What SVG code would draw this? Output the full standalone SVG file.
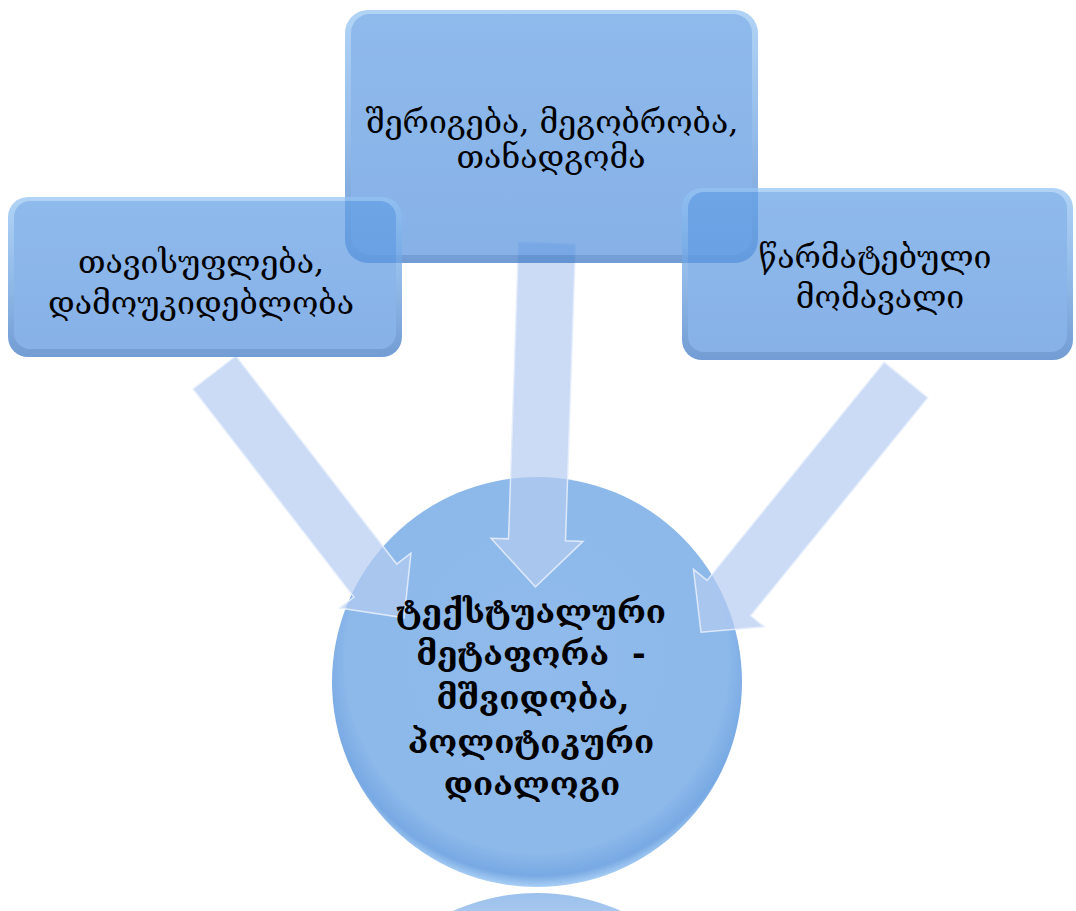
<svg xmlns="http://www.w3.org/2000/svg" width="1076" height="911" viewBox="0 0 1076 911">
<defs>
<style>
.lbl{font-family:"DejaVu Serif","DejaVu Sans","Noto Sans",serif;fill:#000;text-anchor:middle}
.box{font-size:32px}
.ctr{font-size:33px;font-weight:bold}
.arrow{fill:#b5ccf1;fill-opacity:0.7;stroke:#e4edfb;stroke-width:1.5;stroke-opacity:0.9}
</style>
<linearGradient id="bevel" x1="0" y1="0" x2="0" y2="1">
<stop offset="0" stop-color="#94c4f3"/>
<stop offset="0.5" stop-color="#6aa2e2"/>
<stop offset="1" stop-color="#3d78c4"/>
</linearGradient>
<linearGradient id="face" x1="0" y1="0" x2="0" y2="1">
<stop offset="0" stop-color="#64a0e6"/>
<stop offset="1" stop-color="#5994df"/>
</linearGradient>
<radialGradient id="ball" cx="0.5" cy="0.45" r="0.55">
<stop offset="0" stop-color="#90bbec"/>
<stop offset="0.85" stop-color="#8cb8ea"/>
<stop offset="0.95" stop-color="#78a9e3"/>
<stop offset="1" stop-color="#a9cff5"/>
</radialGradient>
<linearGradient id="refl" x1="0" y1="0" x2="0" y2="1">
<stop offset="0" stop-color="#8fb9ea" stop-opacity="0.9"/>
<stop offset="0.12" stop-color="#8fb9ea" stop-opacity="0.6"/>
<stop offset="0.3" stop-color="#8fb9ea" stop-opacity="0"/>
</linearGradient>
</defs>

<g id="node-center">
<circle cx="537" cy="682" r="205" fill="url(#ball)"/>
<circle cx="537" cy="1098" r="205" fill="url(#refl)"/>
</g>

<g id="connectors">
<path class="arrow" transform="translate(214.5,372.5) rotate(-37.7)" d="M-27,0 L27,0 L27,263 L45,263 L0,310 L-45,263 L-27,263 Z"/>
<path class="arrow" transform="translate(547,243) rotate(1.93)" d="M-28.5,0 L28.5,0 L28.5,297 L46,297 L0,344 L-46,297 L-28.5,297 Z"/>
<path class="arrow" transform="translate(906,380) rotate(39.1)" d="M-28,0 L28,0 L28,281 L45.5,281 L0,325 L-45.5,281 L-28,281 Z"/>
</g>

<g id="node-top" opacity="0.72">
<rect x="345" y="10" width="413" height="253" rx="23" fill="url(#bevel)"/>
<rect x="351" y="14" width="401" height="241" rx="19" fill="url(#face)"/>
</g>
<g id="node-left" opacity="0.72">
<rect x="8" y="197" width="394" height="160" rx="20" fill="url(#bevel)"/>
<rect x="14" y="201" width="382" height="148" rx="16" fill="url(#face)"/>
</g>
<g id="node-right" opacity="0.72">
<rect x="682" y="188" width="391" height="172" rx="20" fill="url(#bevel)"/>
<rect x="688" y="192" width="379" height="160" rx="16" fill="url(#face)"/>
</g>

<g id="labels">
<text class="lbl box" x="552" y="133">შერიგება, მეგობრობა,</text>
<text class="lbl box" x="551" y="168">თანადგომა</text>
<text class="lbl box" x="201" y="273">თავისუფლება,</text>
<text class="lbl box" x="201" y="314">დამოუკიდებლობა</text>
<text class="lbl box" x="875" y="268">წარმატებული</text>
<text class="lbl box" x="880" y="308">მომავალი</text>
<text class="lbl ctr" x="531" y="623">ტექსტუალური</text>
<text class="lbl ctr" x="531" y="665" xml:space="preserve">მეტაფორა  -</text>
<text class="lbl ctr" x="533" y="709">მშვიდობა,</text>
<text class="lbl ctr" x="531" y="753">პოლიტიკური</text>
<text class="lbl ctr" x="532" y="795">დიალოგი</text>
</g>
</svg>
